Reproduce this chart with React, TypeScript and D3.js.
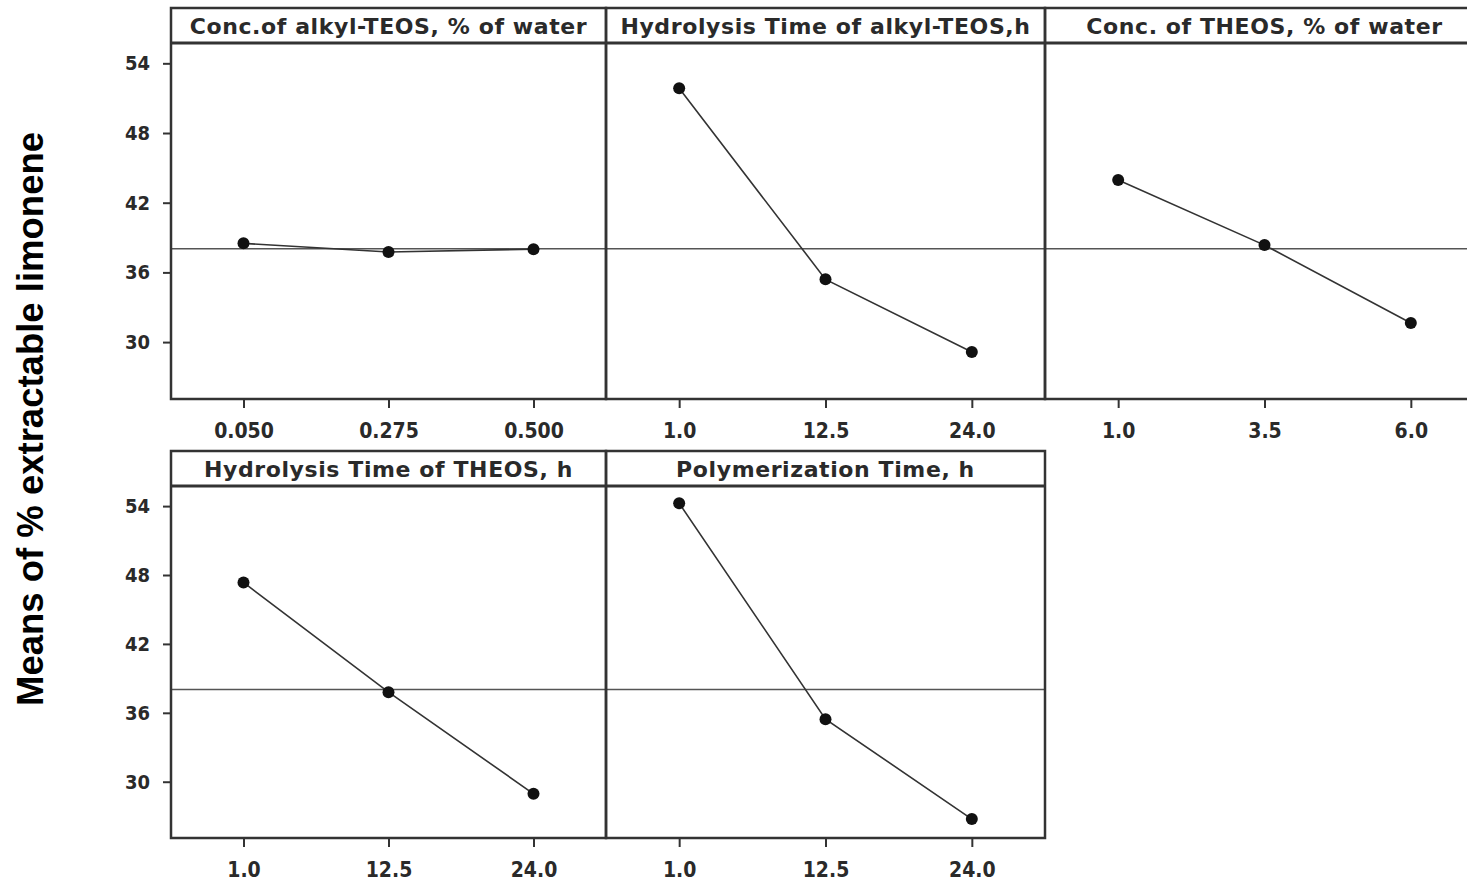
import { useEffect, useRef } from 'react';
import * as d3 from 'd3';

// Main effects plot data
const factorTitles = [
  'Conc.of alkyl-TEOS, % of water',
  'Hydrolysis Time of alkyl-TEOS,h',
  'Conc. of THEOS, % of water',
  'Hydrolysis Time of THEOS, h',
  'Polymerization Time, h',
];

const alkylConcLevels = ['0.050', '0.275', '0.500'];
const alkylTimeLevels = ['1.0', '12.5', '24.0'];
const theosConcLevels = ['1.0', '3.5', '6.0'];
const theosTimeLevels = ['1.0', '12.5', '24.0'];
const polyTimeLevels = ['1.0', '12.5', '24.0'];

const alkylConcMeans = [38.5, 37.75, 38.0];
const alkylTimeMeans = [51.85, 35.4, 29.15];
const theosConcMeans = [43.95, 38.35, 31.65];
const theosTimeMeans = [47.35, 37.8, 28.95];
const polyTimeMeans = [54.25, 35.45, 26.75];

const grandMean = 38.03;
const yTicks = [30, 36, 42, 48, 54];
const yDomain: [number, number] = [25.1, 55.75];

const yAxisTitle = 'Means of % extractable limonene';

export default function App() {
  const svgRef = useRef<SVGSVGElement>(null);

  useEffect(() => {
    if (!svgRef.current) return;
    const width = 1467;
    const height = 888;

    const svg = d3.select(svgRef.current)
      .attr('width', width)
      .attr('height', height);
    svg.selectAll('*').remove();

    const tickFont = '"DejaVu Sans Condensed", "DejaVu Sans", sans-serif';
    const titleFont = '"DejaVu Sans", sans-serif';
    const ink = '#2a2a2a';

    // panel layout: two rows, three columns
    const colEdges = [171, 606, 1045, 1484];
    const rows = [
      { top: 8, headerBottom: 43, bottom: 399 },
      { top: 451, headerBottom: 486, bottom: 838 },
    ];

    const panels = [
      { levels: alkylConcLevels, means: alkylConcMeans, row: 0, col: 0 },
      { levels: alkylTimeLevels, means: alkylTimeMeans, row: 0, col: 1 },
      { levels: theosConcLevels, means: theosConcMeans, row: 0, col: 2 },
      { levels: theosTimeLevels, means: theosTimeMeans, row: 1, col: 0 },
      { levels: polyTimeLevels, means: polyTimeMeans, row: 1, col: 1 },
    ];

    // y axes, one per row
    rows.forEach((r, ri) => {
      const rowPanels = panels.filter(p => p.row === ri);
      const left = colEdges[0];
      const right = colEdges[rowPanels.length];
      const y = d3.scaleLinear().domain(yDomain).range([r.bottom, r.headerBottom]);

      const yAxis = svg.append('g')
        .attr('transform', `translate(${left},0)`)
        .call(d3.axisLeft(y).tickValues(yTicks).tickSize(8).tickPadding(13).tickFormat(d3.format('d')));
      yAxis.select('.domain').remove();
      yAxis.selectAll('line').attr('stroke', '#333').attr('stroke-width', 2);
      yAxis.selectAll('text')
        .attr('fill', ink)
        .style('font-family', tickFont)
        .style('font-size', '20px')
        .style('font-weight', 'bold');

      // grand mean reference line across the row
      svg.append('line')
        .attr('x1', left).attr('x2', right)
        .attr('y1', y(grandMean)).attr('y2', y(grandMean))
        .attr('stroke', '#555')
        .attr('stroke-width', 1.5);

      rowPanels.forEach(p => {
        const x0 = colEdges[p.col];
        const x1 = colEdges[p.col + 1];
        const x = d3.scalePoint<string>().domain(p.levels).range([x0, x1]).padding(0.5);
        const title = factorTitles[panels.indexOf(p)];

        // line + points
        const pts = p.levels.map((l, i) => ({ l, v: p.means[i] }));
        svg.append('path')
          .datum(pts)
          .attr('fill', 'none')
          .attr('stroke', '#333')
          .attr('stroke-width', 1.6)
          .attr('d', d3.line<typeof pts[0]>().x(d => x(d.l) as number).y(d => y(d.v)));

        svg.selectAll(null)
          .data(pts)
          .enter()
          .append('circle')
          .attr('cx', d => x(d.l) as number)
          .attr('cy', d => y(d.v))
          .attr('r', 6)
          .attr('fill', '#111');

        // x axis ticks and labels
        const xAxis = svg.append('g')
          .attr('transform', `translate(0,${r.bottom})`)
          .call(d3.axisBottom(x).tickSize(9).tickPadding(15));
        xAxis.select('.domain').remove();
        xAxis.selectAll('line').attr('stroke', '#333').attr('stroke-width', 2);
        xAxis.selectAll('text')
          .attr('fill', ink)
          .style('font-family', tickFont)
          .style('font-size', '21px')
          .style('font-weight', 'bold');

        // frame
        svg.append('rect')
          .attr('x', x0).attr('y', r.top)
          .attr('width', x1 - x0).attr('height', r.bottom - r.top)
          .attr('fill', 'none')
          .attr('stroke', '#333')
          .attr('stroke-width', 2.5);

        svg.append('line')
          .attr('x1', x0).attr('x2', x1)
          .attr('y1', r.headerBottom).attr('y2', r.headerBottom)
          .attr('stroke', '#333')
          .attr('stroke-width', 3);

        svg.append('text')
          .attr('x', (x0 + x1) / 2)
          .attr('y', r.headerBottom - 9)
          .attr('text-anchor', 'middle')
          .attr('fill', ink)
          .style('font-family', titleFont)
          .style('font-size', '22px')
          .style('font-weight', 'bold')
          .style('letter-spacing', '0.6px')
          .text(title);
      });
    });

    // y axis title
    svg.append('text')
      .attr('transform', 'rotate(-90)')
      .attr('x', -419)
      .attr('y', 43)
      .attr('text-anchor', 'middle')
      .attr('fill', '#000')
      .style('font-family', '"Liberation Sans", Arial, sans-serif')
      .style('font-size', '36.5px')
      .style('font-weight', 'bold')
      .text(yAxisTitle);
  }, []);

  return (
    <div style={{ position: 'fixed', left: 0, top: 0, width: 1467, height: 888, background: '#fff', overflow: 'hidden' }}>
      <svg ref={svgRef} style={{ display: 'block' }} />
    </div>
  );
}
